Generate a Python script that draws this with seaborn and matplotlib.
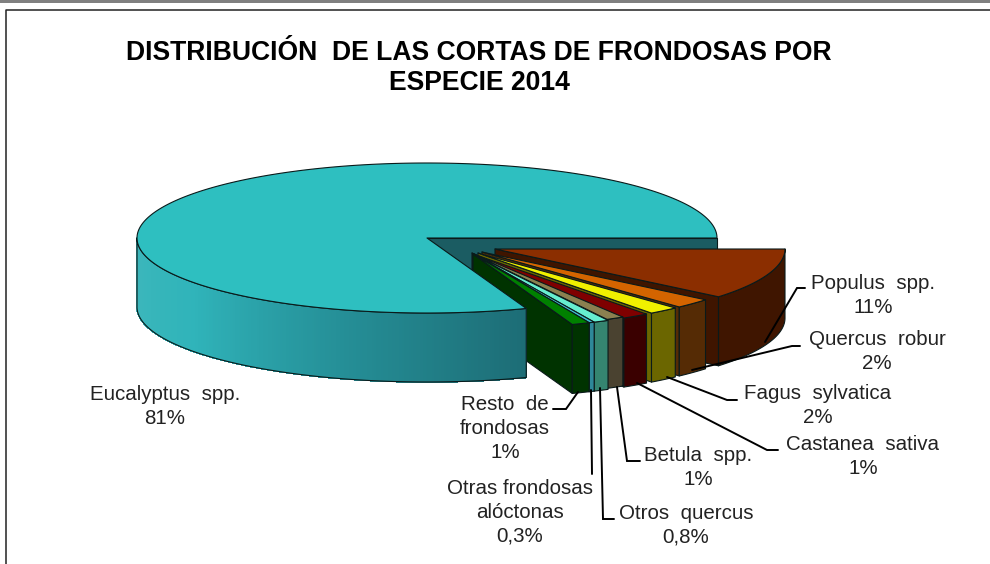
import numpy as np
import seaborn as sns
import matplotlib.pyplot as plt
from matplotlib.patches import Polygon

sns.set_theme(style="white")
plt.rcParams['font.family'] = ['Liberation Sans', 'DejaVu Sans']

# species in drawing order, going round the pie
species = ["Eucalyptus  spp.", "Resto  de\nfrondosas", "Otras frondosas\nalóctonas", "Otros  quercus",
           "Betula  spp.", "Castanea  sativa", "Fagus  sylvatica", "Quercus  robur", "Populus  spp."]
values = [80.6, 1.0, 0.3, 0.85, 1.0, 1.5, 1.7, 2.1, 11]
pct_labels = ["81%", "1%", "0,3%", "0,8%", "1%", "1%", "2%", "2%", "11%"]

top_colors = ["#2ebfc0", "#008000", "#3fc0d0", "#66eed0", "#8b8050", "#7f0000", "#f0f000", "#d46400", "#8b2e00"]
side_colors = ["#1f7a80", "#003300", "#2e8899", "#358570", "#4a4230", "#3a0000", "#6b6600", "#552b05", "#3f1500"]

# layout (pixels)
cx, cy = 427, 238
rx, ry = 290, 75
depth = 69
apex = [(427, 238), (473, 254), (473, 254), (473, 254), (472, 253), (473, 254), (478, 253), (482, 252), (495, 249)]
label_pos = [(165, 406), (505, 428), (520, 512), (686, 525), (698, 467), (863, 456), (818, 405), (877, 351), (873, 295)]
leaders = [None,
           [(553, 409), (566, 409), (578, 392)],
           [(592, 474), (591, 390)],
           [(614, 519), (603, 519), (600, 388)],
           [(640, 461), (627, 461), (617, 387)],
           [(778, 450), (767, 450), (637, 383)],
           [(737, 400), (727, 400), (667, 377)],
           [(800, 346), (792, 346), (692, 370)],
           [(805, 288), (797, 288), (765, 342)]]


def arc(x0, y0, t1, t2, n=60):
    t = np.radians(np.linspace(t1, t2, n))
    return np.column_stack([x0 + rx * np.cos(t), y0 - ry * np.sin(t)])


def fill(ax, pts, color, lw=0.8):
    ax.add_patch(Polygon(pts, closed=True, facecolor=color, edgecolor="#0a1a1a", linewidth=lw, joinstyle="round"))


fig = plt.figure(figsize=(9.9, 5.64), dpi=100)
ax = fig.add_axes([0, 0, 1, 1])
ax.set_xlim(0, 990)
ax.set_ylim(564, 0)
ax.axis("off")

# frame of the chart and the grey band above
ax.fill_between([0, 990], 0, 3, color="#808080", linewidth=0)
ax.plot([5.5, 5.5, 990], [564, 9.5, 9.5], color="#222222", lw=1.1)

spans = 360 * np.array(values) / sum(values)
ends = np.cumsum(spans)
starts = ends - spans

# wall of the main slice seen through the gap
fill(ax, [(cx, cy), (cx + rx, cy), (cx + rx, cy + depth), (cx, cy + depth)], "#1b5c62")

# exploded slices, back to front
for i in range(len(values) - 1, 0, -1):
    ax0, ay0 = apex[i]
    a = arc(ax0, ay0, starts[i], ends[i])
    # cut face on the starting side
    fill(ax, [(ax0, ay0), tuple(a[0]), (a[0][0], a[0][1] + depth), (ax0, ay0 + depth)], side_colors[i])
    # outer side
    fill(ax, np.vstack([a, (a + [0, depth])[::-1]]), side_colors[i])
    # top
    fill(ax, np.vstack([[(ax0, ay0)], a]), top_colors[i])

# main slice: outer side with a horizontal gradient, then the top
n_side = 240
grad = sns.blend_palette(["#3fb7bb", "#30b4ba", "#258f97", "#1d6d76"], n_side - 1)
side = arc(cx, cy, 180, ends[0], n_side)
for k in range(n_side - 1):
    q = [side[k], side[k + 1], side[k + 1] + [0, depth], side[k] + [0, depth]]
    ax.add_patch(Polygon(q, closed=True, facecolor=grad[k], edgecolor=grad[k], linewidth=0.6, antialiased=False))
fill_outline = np.vstack([side, (side + [0, depth])[::-1]])
ax.add_patch(Polygon(fill_outline, closed=True, fill=False, edgecolor="#0a1a1a", linewidth=0.8))
fill(ax, np.vstack([[(cx, cy)], arc(cx, cy, starts[0], ends[0], 300)]), top_colors[0])

# labels and leader lines
for name, pct, pos, line in zip(species, pct_labels, label_pos, leaders):
    ax.text(pos[0], pos[1] + 0.5, name + "\n" + pct, ha="center", va="center", fontsize=14.8,
            color="#222222", linespacing=1.3)
    if line is not None:
        xs, ys = zip(*line)
        ax.plot(xs, ys, color="black", lw=1.4, solid_joinstyle="miter")

ax.text(479, 68, "DISTRIBUCIÓN  DE LAS CORTAS DE FRONDOSAS POR\nESPECIE 2014", ha="center", va="center",
        fontsize=19.1, fontweight="bold", color="black", linespacing=1.24)

fig.savefig("out.png", dpi=100)
